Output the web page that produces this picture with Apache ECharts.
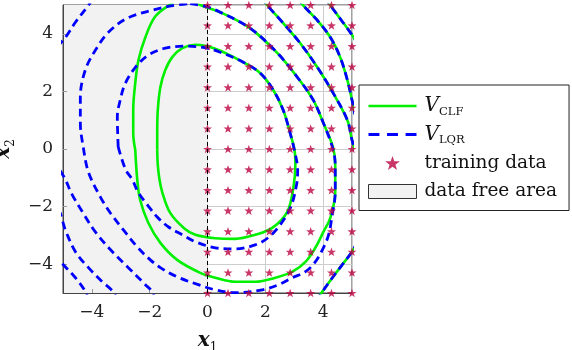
<!DOCTYPE html>
<html>
<head>
<meta charset="utf-8">
<script src="https://cdn.jsdelivr.net/npm/echarts@6/dist/echarts.min.js"></script>
<style>
  html, body { margin: 0; padding: 0; background: #fff; }
  #chart { width: 572px; height: 350px; }
</style>
</head>
<body>
<div id="chart"></div>
<script>
// training data grid (x1 >= 0 half of the state space)
const gridX1 = [0, 0.71, 1.43, 2.14, 2.86, 3.57, 4.29, 5]
const gridX2 = [-5, -4.29, -3.57, -2.86, -2.14, -1.43, -0.71, 0, 0.71, 1.43, 2.14, 2.86, 3.57, 4.29, 5]

// V_CLF level curves as [x1, x2]
const clfInner = [[-1.74,-0.03],[-1.74,0.55],[-1.72,1.35],[-1.63,2.15],[-1.46,2.74],[-1.22,3.19],[-0.87,3.50],[-0.42,3.62],[0.27,3.48],[1.24,3.01],[1.83,2.63],[2.28,2.04],[2.62,1.35],[2.86,0.55],[3.02,-0.10],[3.04,-0.55],[2.97,-1.35],[2.76,-2.18],[2.24,-2.74],[1.65,-2.98],[0.96,-3.12],[0.27,-3.10],[-0.42,-2.98],[-0.80,-2.76],[-1.29,-2.22],[-1.56,-1.52],[-1.66,-1.07],[-1.72,-0.55],[-1.74,-0.03]]
const clfOuter = [[-2.50,-0.03],[-2.57,0.55],[-2.57,1.35],[-2.50,2.29],[-2.39,3.08],[-2.15,3.88],[-1.81,4.60],[-1.29,5.02],[-0.80,5.30],[-0.25,5.00],[0.44,4.75],[1.48,4.19],[2.42,3.33],[3.11,2.49],[3.66,1.70],[4.01,0.90],[4.34,0.07],[4.42,-0.55],[4.42,-1.49],[4.25,-2.39],[4.01,-2.88],[3.73,-3.43],[3.39,-3.92],[2.94,-4.26],[2.35,-4.47],[1.65,-4.61],[0.96,-4.61],[0.27,-4.47],[-0.25,-4.30],[-1.05,-3.85],[-1.63,-3.26],[-2.05,-2.56],[-2.33,-1.77],[-2.43,-1.07],[-2.50,-0.03]]
const clfThirdTop = [[1.85,5.30],[2.07,4.99],[2.62,4.37],[3.21,3.67],[3.80,2.84],[4.35,1.94],[4.84,1.00],[5.00,0.31],[5.15,-0.20]]
const clfThirdLow = [[5.20,-3.20],[5.00,-3.57],[4.66,-4.02],[4.32,-4.47],[3.97,-4.96],[3.80,-5.20]]
const clfFourth = [[3.10,5.30],[3.31,4.99],[3.80,4.47],[4.25,3.88],[4.59,3.19],[4.84,2.39],[5.00,1.70],[5.10,1.20]]
const clfFifth = [[4.05,5.30],[4.25,4.99],[4.94,4.05],[5.10,3.80]]

// V_LQR level curves (ellipses)
const lqrInner = [[-3.09,0.07],[-3.12,1.11],[-3.02,1.70],[-2.84,2.29],[-2.49,2.84],[-2.05,3.26],[-1.46,3.50],[-0.80,3.57],[-0.10,3.52],[0.44,3.36],[1.24,3.01],[1.83,2.63],[2.28,2.04],[2.62,1.35],[2.86,0.55],[3.02,-0.10],[3.12,-0.73],[3.08,-1.25],[2.87,-2.04],[2.50,-2.65],[2.10,-3.08],[1.65,-3.33],[0.96,-3.47],[0.27,-3.43],[-0.42,-3.22],[-0.87,-2.98],[-1.36,-2.70],[-1.74,-2.36],[-2.08,-1.94],[-2.39,-1.52],[-2.60,-1.07],[-2.84,-0.70],[-3.09,0.07]]
const lqrSecond = [[-0.60,5.05],[0.00,4.93],[0.44,4.75],[1.48,4.19],[2.42,3.33],[3.11,2.49],[3.66,1.70],[4.01,0.90],[4.32,0.07],[4.42,-0.55],[4.42,-1.49],[4.30,-2.39],[4.19,-2.98],[4.01,-3.43],[3.73,-3.92],[3.39,-4.26],[2.94,-4.47],[2.46,-4.71],[1.90,-4.89],[0.96,-4.99],[0.27,-4.89],[-0.32,-4.71],[-1.05,-4.44],[-1.63,-4.12],[-1.98,-3.85],[-2.43,-3.40],[-2.91,-2.81],[-3.36,-2.22],[-3.71,-1.66],[-4.12,-0.80],[-4.30,0.07],[-4.40,0.90],[-4.40,1.80],[-4.23,2.74],[-3.88,3.43],[-3.43,4.05],[-2.78,4.54],[-1.91,4.82],[-1.20,4.98],[-0.60,5.05]]
const lqrThirdTopLeft = [[-5.20,3.55],[-4.91,3.88],[-4.57,4.40],[-4.12,4.99],[-3.90,5.30]]
const lqrThirdLowLeft = [[-1.80,-5.30],[-1.91,-4.96],[-2.15,-4.71],[-2.74,-4.12],[-3.29,-3.57],[-3.88,-2.88],[-4.33,-2.18],[-4.68,-1.59],[-4.95,-1.00],[-5.20,-0.60]]
const lqrFourthLowLeft = [[-3.10,-5.30],[-3.26,-4.96],[-3.64,-4.61],[-4.12,-4.12],[-4.57,-3.57],[-4.92,-2.81],[-5.00,-2.55],[-5.10,-2.20]]
const lqrFifthLowLeft = [[-4.10,-5.30],[-4.22,-4.96],[-4.57,-4.47],[-4.99,-4.02],[-5.20,-3.80]]

const clfPieces = [clfInner, clfOuter, clfThirdTop, clfThirdLow, clfFourth, clfFifth]
const lqrPieces = [lqrInner, lqrSecond, lqrThirdTopLeft, clfThirdTop, clfThirdLow, lqrThirdLowLeft,
                   clfFourth, lqrFourthLowLeft, clfFifth, lqrFifthLowLeft]

const GREEN = '#00f000'
const BLUE = '#0000ff'
const STAR = '#bb0544'
const starPath = 'path://M0,-10 L2.35,-3.24 L9.51,-3.09 L3.8,1.24 L5.88,8.09 L0,4 L-5.88,8.09 L-3.8,1.24 L-9.51,-3.09 L-2.35,-3.24 Z'
// legend samples: a solid stroke and three dashes
const solidIcon = 'path://M0,0 L48,0 L48,2.7 L0,2.7 Z'
const dashIcon = 'path://M0,0h10v2.7h-10z M17,0h10v2.7h-10z M34,0h10v2.7h-10z'
const FONT = 'DejaVu Serif'

const trainingPoints = []
gridX2.forEach(y => gridX1.forEach(x => trainingPoints.push([x, y])))

const curve = (name, points, color, dashed, z) => ({
    name: name,
    type: 'line',
    data: points,
    smooth: 0.35,
    symbol: 'none',
    silent: true,
    z: z,
    lineStyle: { color: color, width: dashed ? 2.8 : 2.6, type: dashed ? [8, 5] : 'solid' },
    itemStyle: { color: color }
})

const minus = v => (v < 0 ? '\u2212' + Math.abs(v) : String(v))

const axisNameRich = {
    b: { fontFamily: FONT, fontWeight: 'bold', fontStyle: 'italic', fontSize: 20, color: '#111', lineHeight: 26, verticalAlign: 'middle' },
    s: { fontFamily: FONT, fontSize: 12, color: '#111', lineHeight: 14, verticalAlign: 'bottom' }
}

const chart = echarts.init(document.getElementById('chart'))

const option = {
    animation: false,
    grid: {
        left: 63, top: 5, width: 289, height: 288,
        show: true, borderColor: '#444', borderWidth: 1, z: 1,
        outerBoundsMode: 'none'
    },
    xAxis: {
        type: 'value', min: -5, max: 5, z: 1,
        name: '{b|x}{s|1}', nameLocation: 'middle', nameGap: 35,
        nameTextStyle: { rich: axisNameRich },
        axisLine: { onZero: false, lineStyle: { color: '#444', width: 1 } },
        axisTick: { inside: true, length: 4, lineStyle: { color: '#999' } },
        axisLabel: { showMinLabel: false, showMaxLabel: false, formatter: minus, fontFamily: FONT, fontSize: 17, color: '#222', margin: 11 },
        splitLine: { lineStyle: { color: '#cdcdcd', width: 1 } }
    },
    yAxis: {
        type: 'value', min: -5, max: 5, z: 1,
        name: '{b|x}{s|2}', nameLocation: 'middle', nameGap: 35,
        nameTextStyle: { rich: axisNameRich },
        axisLine: { onZero: false, lineStyle: { color: '#444', width: 1 } },
        axisTick: { inside: true, length: 4, lineStyle: { color: '#999' } },
        axisLabel: { showMinLabel: false, showMaxLabel: false, formatter: minus, fontFamily: FONT, fontSize: 17, color: '#222', margin: 10 },
        splitLine: { lineStyle: { color: '#cdcdcd', width: 1 } }
    },
    legend: {
        orient: 'vertical', left: 359, top: 85,
        padding: [9, 12, 7, 9],
        itemWidth: 48, itemHeight: 14, itemGap: 4.5,
        borderColor: '#222', borderWidth: 1, backgroundColor: '#fff',
        selectedMode: false,
        data: [
            { name: 'V_CLF', icon: solidIcon, itemStyle: { color: GREEN } },
            { name: 'V_LQR', icon: dashIcon, itemStyle: { color: BLUE } },
            { name: 'training data', icon: starPath },
            { name: 'data free area', icon: 'rect', itemStyle: { color: '#f2f2f2', borderColor: '#333', borderWidth: 1 } }
        ],
        formatter: name => {
            if (name === 'V_CLF') return '{v|V}{s|CLF}'
            if (name === 'V_LQR') return '{v|V}{s|LQR}'
            return '{t|' + name + '}'
        },
        textStyle: {
            fontFamily: FONT, fontSize: 18.5, color: '#111', lineHeight: 24,
            rich: {
                v: { fontFamily: FONT, fontStyle: 'italic', fontSize: 20, color: '#111', lineHeight: 24, verticalAlign: 'middle', padding: [0, 0, 0, 3] },
                s: { fontFamily: FONT, fontSize: 11.5, color: '#111', lineHeight: 12, verticalAlign: 'bottom' },
                t: { fontFamily: FONT, fontSize: 18.5, color: '#111', lineHeight: 24, padding: [0, 0, 0, 3] }
            }
        }
    },
    series: [
        {
            name: 'data free area',
            type: 'line',
            data: [],
            z: 0,
            silent: true,
            itemStyle: { color: '#f2f2f2' },
            markArea: {
                silent: true,
                itemStyle: { color: '#f2f2f2' },
                data: [[{ xAxis: -5 }, { xAxis: 0 }]]
            },
            markLine: {
                silent: true,
                symbol: ['none', 'none'],
                label: { show: false },
                lineStyle: { color: '#000', type: [4, 3], width: 1 },
                data: [{ xAxis: 0 }]
            }
        },
        ...clfPieces.map(p => curve('V_CLF', p, GREEN, false, 2)),
        ...lqrPieces.map(p => curve('V_LQR', p, BLUE, true, 3)),
        {
            name: 'training data',
            type: 'scatter',
            data: trainingPoints,
            symbol: starPath,
            symbolSize: 9,
            symbolKeepAspect: true,
            clip: false,
            z: 4,
            silent: true,
            itemStyle: { color: STAR }
        }
    ]
}

chart.setOption(option)
</script>
</body>
</html>
